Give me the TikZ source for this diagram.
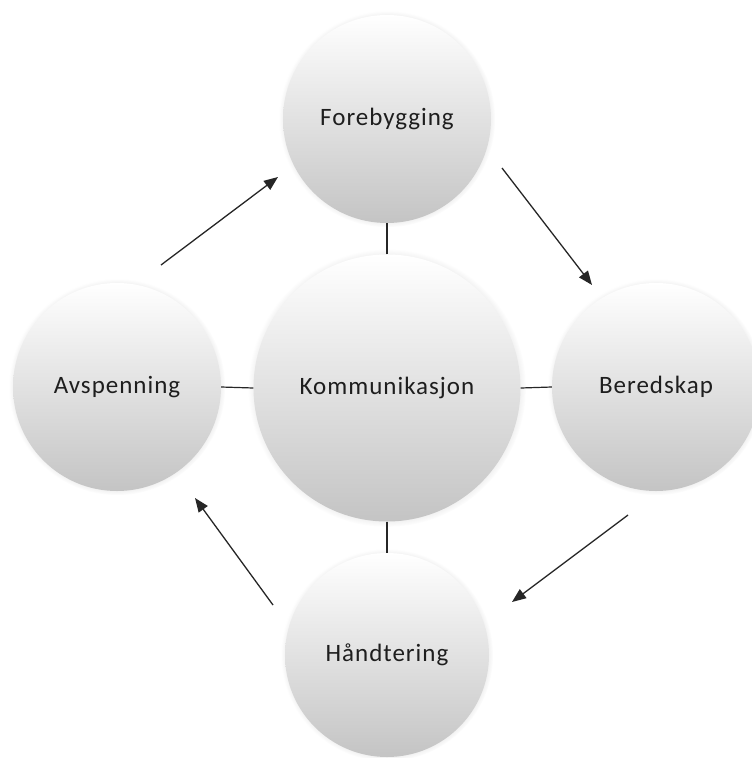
\documentclass[tikz,border=0pt]{standalone}
\usepackage{fontspec}
\setmainfont{Carlito}[LetterSpace=4]
\usetikzlibrary{arrows.meta,shadows}
\definecolor{ballbot}{RGB}{196,196,196}
\definecolor{txt}{RGB}{30,30,30}
\tikzset{
  ball/.style={circle, inner sep=0pt, top color=white, bottom color=ballbot, draw=none,
    text=txt, font=\fontsize{25}{29}\selectfont,
    circular drop shadow={shadow xshift=0pt, shadow yshift=0pt, shadow scale=1.04, opacity=0.35}},
  link/.style={draw=black!85, line width=1.2pt},
  flow/.style={draw=black!85, line width=1.3pt, -{Triangle[length=14pt,width=11pt]}}
}
\begin{document}
\begin{tikzpicture}[x=1pt,y=-1pt]
\useasboundingbox (0,0) rectangle (752,758);
\node[ball, minimum size=208pt] (f) at (387,119) {Forebygging};
\node[ball, minimum size=267pt] (k) at (387,388) {Kommunikasjon};
\node[ball, minimum size=208pt] (a) at (117,387) {Avspenning};
\node[ball, minimum size=208pt] (b) at (656,387) {Beredskap};
\node[ball, minimum size=204pt] (h) at (387,655) {Håndtering};
\draw[link] (k.north) -- (f.south);
\draw[link] (k.south) -- (h.north);
\draw[link] (k.west) -- (a.east);
\draw[link] (k.east) -- (b.west);
\coordinate (a1s) at (161,265); \coordinate (a1e) at (278,177);
\coordinate (a2s) at (502,168); \coordinate (a2e) at (592,285);
\coordinate (a3s) at (628,515); \coordinate (a3e) at (512,602);
\coordinate (a4s) at (273,605); \coordinate (a4e) at (195,498);
\draw[flow] (a1s) -- (a1e);
\draw[flow] (a2s) -- (a2e);
\draw[flow] (a3s) -- (a3e);
\draw[flow] (a4s) -- (a4e);
\end{tikzpicture}
\end{document}
